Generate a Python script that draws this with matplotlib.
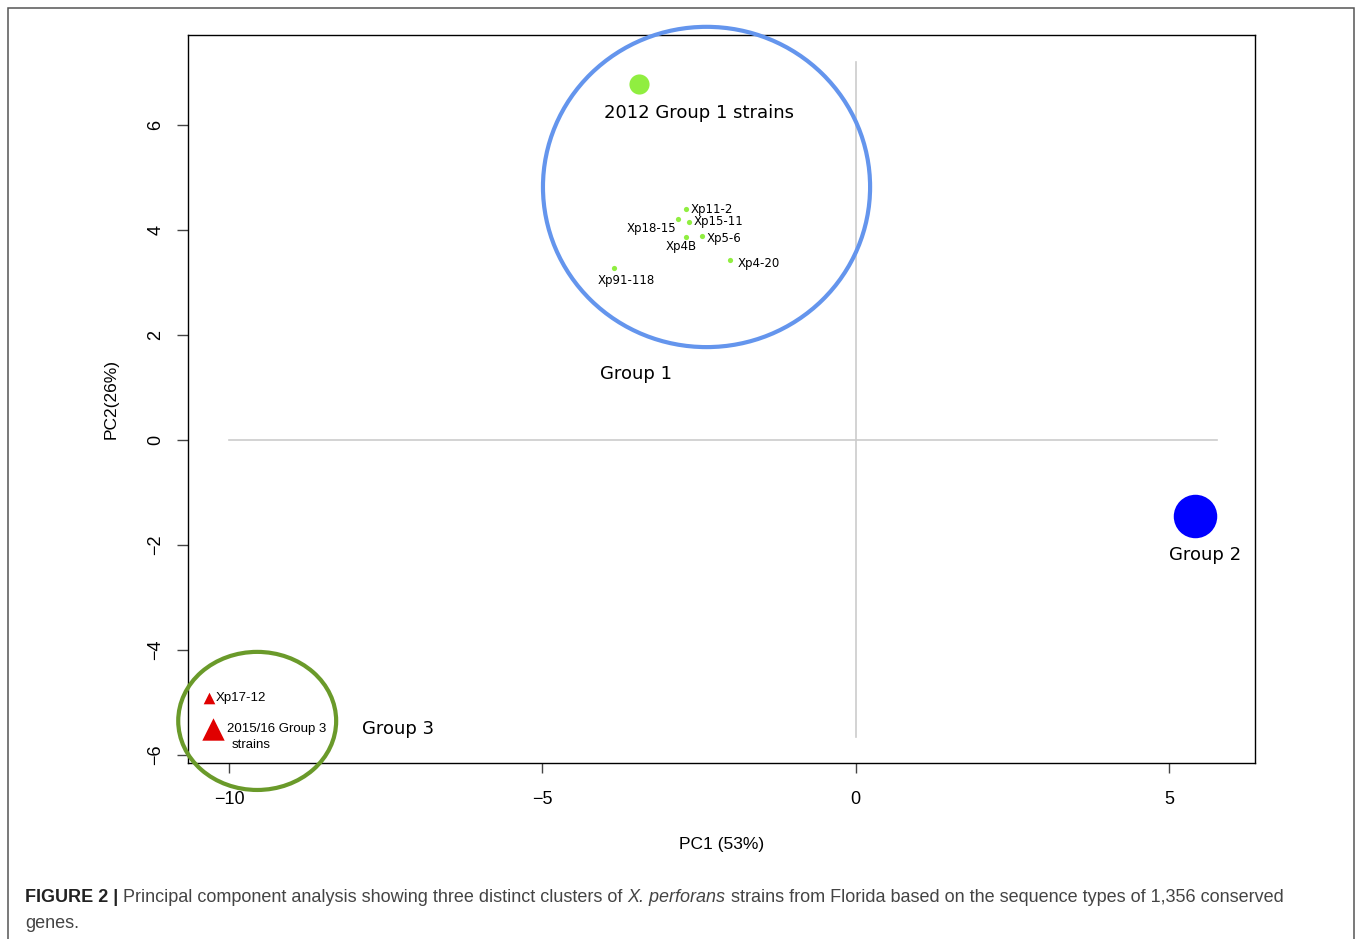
import matplotlib
matplotlib.use('Agg')
import matplotlib.pyplot as plt
from matplotlib.patches import Ellipse, Rectangle

# Cepas del grupo 1 (puntos pequeños)
g1_names = ['Xp11-2', 'Xp18-15', 'Xp15-11', 'Xp4B', 'Xp5-6', 'Xp4-20', 'Xp91-118']
g1_x = [-2.70, -2.84, -2.66, -2.71, -2.46, -2.00, -3.85]
g1_y = [4.40, 4.21, 4.16, 3.87, 3.89, 3.43, 3.27]

# Grupo 1 2012 (punto grande)
g1_2012_x = [-3.46]
g1_2012_y = [6.78]

# Grupo 2
g2_x = [5.41]
g2_y = [-1.45]

# Grupo 3
g3_names = ['Xp17-12']
g3_x = [-10.32]
g3_y = [-4.92]
g3_1516_x = [-10.25]
g3_1516_y = [-5.51]

xticks = [-10, -5, 0, 5]
yticks = [-6, -4, -2, 0, 2, 4, 6]

fig = plt.figure(figsize=(13.58, 9.39), dpi=100)
ax = fig.add_axes([0.1384, 0.1874, 0.7858, 0.7753])
ax.set_xlim(-10.655, 6.373)
ax.set_ylim(-6.152, 7.714)

# marco exterior
fig.patches.append(Rectangle((8 / 1358, -0.05), 1346 / 1358, 1 - 8 / 939 + 0.05,
                             transform=fig.transFigure, fill=False,
                             edgecolor='#555555', linewidth=1.1))

# líneas de referencia
ax.plot([-10.0, 5.76], [0, 0], color='#cccccc', lw=1.2, zorder=1)
ax.plot([0, 0], [-5.66, 7.2], color='#cccccc', lw=1.2, zorder=1)

# puntos
ax.scatter(g1_x, g1_y, s=14, color='#90ee40', zorder=3, linewidths=0)
ax.scatter(g1_2012_x, g1_2012_y, s=210, color='#90ee40', zorder=3, linewidths=0)
ax.scatter(g2_x, g2_y, s=980, color='#0000ff', zorder=3, linewidths=0)
ax.scatter(g3_x, g3_y, s=70, marker='^', color='#e00000', zorder=3, linewidths=0)
ax.scatter(g3_1516_x, g3_1516_y, s=260, marker='^', color='#e00000', zorder=3, linewidths=0)

# etiquetas de cepas
offsets = {
    'Xp11-2': (0.07, 0.0, 'left'),
    'Xp18-15': (-0.02, -0.18, 'right'),
    'Xp15-11': (0.08, 0.0, 'left'),
    'Xp4B': (-0.07, -0.19, 'center'),
    'Xp5-6': (0.08, -0.05, 'left'),
    'Xp4-20': (0.12, -0.07, 'left'),
    'Xp91-118': (0.19, -0.23, 'center'),
}
for name, x, y in zip(g1_names, g1_x, g1_y):
    dx, dy, ha = offsets[name]
    ax.text(x + dx, y + dy, name, fontsize=8.5, ha=ha, va='center',
            family='DejaVu Sans')

ax.text(g3_x[0] + 0.1, g3_y[0], g3_names[0], fontsize=9.5, ha='left', va='center',
        family='Liberation Sans')
ax.text(g3_1516_x[0] + 0.22, g3_1516_y[0] + 0.01, '2015/16 Group 3', fontsize=9.5,
        ha='left', va='center', family='Liberation Sans')
ax.text(g3_1516_x[0] + 0.30, g3_1516_y[0] - 0.30, 'strains', fontsize=9.5,
        ha='left', va='center', family='Liberation Sans')

ax.text(-2.5, 6.23, '2012 Group 1 strains', fontsize=13, ha='center', va='center',
        family='DejaVu Sans')
ax.text(-3.51, 1.26, 'Group 1', fontsize=13, ha='center', va='center', family='DejaVu Sans')
ax.text(5.57, -2.19, 'Group 2', fontsize=13, ha='center', va='center', family='DejaVu Sans')
ax.text(-7.3, -5.5, 'Group 3', fontsize=13, ha='center', va='center', family='DejaVu Sans')

# círculos de grupo
ax.add_patch(Ellipse((-2.38, 4.82), 5.22, 6.10, fill=False, edgecolor='#6495ed',
                     linewidth=3.0, zorder=4, clip_on=False))
ax.add_patch(Ellipse((-9.55, -5.35), 2.52, 2.63, fill=False, edgecolor='#6a9a2a',
                     linewidth=3.0, zorder=4, clip_on=False))

# ejes estilo R
ax.set_xticks(xticks)
ax.set_xticklabels(['\u221210', '\u22125', '0', '5'], family='Liberation Sans', fontsize=13)
ax.set_yticks(yticks)
ax.set_yticklabels(['\u22126', '\u22124', '\u22122', '0', '2', '4', '6'],
                   family='Liberation Sans', fontsize=13, rotation=90, va='center')
ax.tick_params(axis='x', length=7, width=1, color='#444444', pad=13)
ax.tick_params(axis='y', length=8, width=1, color='#444444', pad=9)
for sp in ax.spines.values():
    sp.set_linewidth(1.0)
ax.set_xlabel('PC1 (53%)', family='Liberation Sans', fontsize=12.5, labelpad=21)
ax.set_ylabel('PC2(26%)', family='Liberation Sans', fontsize=12.5, labelpad=21)

# pie de figura
fig.canvas.draw()
renderer = fig.canvas.get_renderer()
pieces = [
    ('FIGURE 2 | ', 'bold', 'normal', '#222222'),
    ('Principal component analysis showing three distinct clusters of ', 'normal', 'normal', '#444444'),
    ('X. perforans', 'normal', 'italic', '#444444'),
    (' strains from Florida based on the sequence types of 1,356 conserved', 'normal', 'normal', '#444444'),
]
x0 = 25 / 1358
ycap = 1 - 898 / 939
for txt, weight, style, col in pieces:
    t = fig.text(x0, ycap, txt, fontsize=13, weight=weight, style=style, color=col,
                 family='Liberation Sans', va='center', ha='left')
    bb = t.get_window_extent(renderer)
    x0 = bb.x1 / 1358
fig.text(25 / 1358, 1 - 924 / 939, 'genes.', fontsize=13, color='#444444',
         family='Liberation Sans', va='center', ha='left')

plt.savefig('out.png', dpi=100)
